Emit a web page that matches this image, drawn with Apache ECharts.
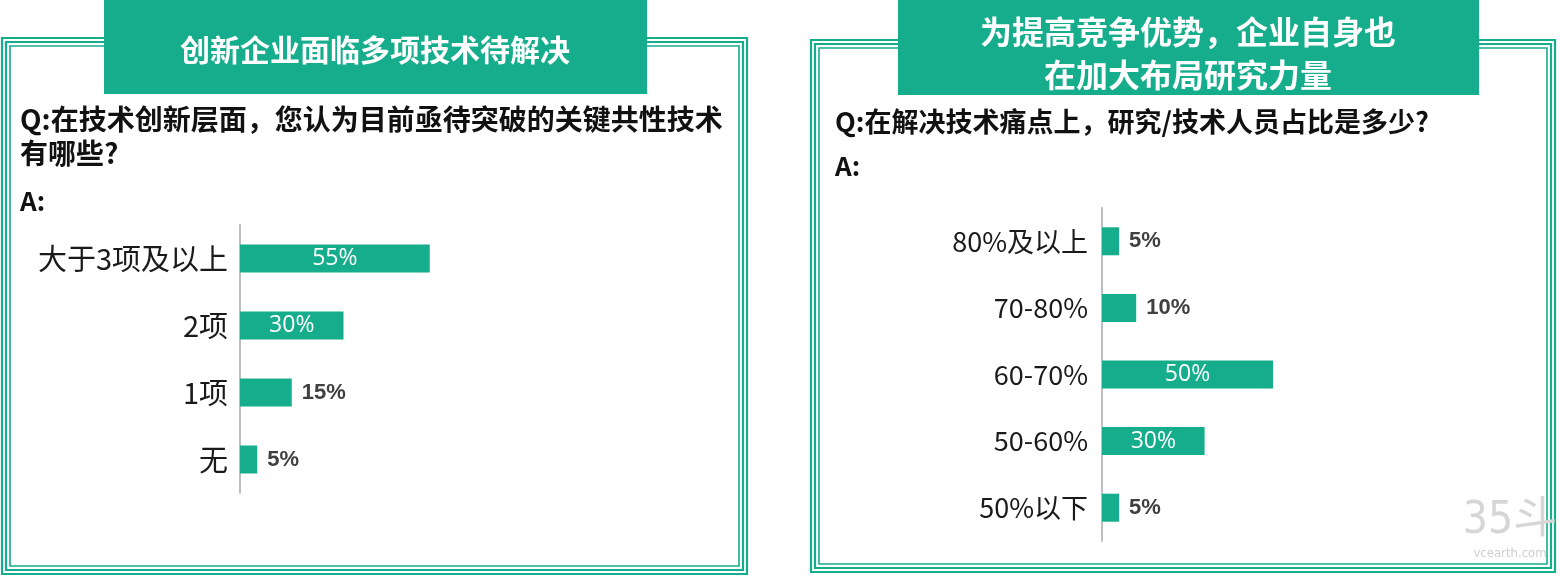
<!DOCTYPE html>
<html>
<head>
<meta charset="utf-8">
<script src="https://cdn.jsdelivr.net/npm/echarts@6/dist/echarts.min.js"></script>
<style>
html,body{margin:0;padding:0;background:#fff;}
#chart{width:1560px;height:576px;}
</style>
</head>
<body>
<div id="chart"></div>
<script>
// ---- data ----
const leftTitle = '创新企业面临多项技术待解决';
const leftQuestion1 = 'Q:在技术创新层面，您认为目前亟待突破的关键共性技术';
const leftQuestion2 = '有哪些?';
const leftCategories = ['大于3项及以上', '2项', '1项', '无'];
const leftValues = [55, 30, 15, 5];

const rightTitle1 = '为提高竞争优势，企业自身也';
const rightTitle2 = '在加大布局研究力量';
const rightQuestion = 'Q:在解决技术痛点上，研究/技术人员占比是多少?';
const rightCategories = ['80%及以上', '70-80%', '60-70%', '50-60%', '50%以下'];
const rightValues = [5, 10, 50, 30, 5];

const answerLabel = 'A:';
const watermark1 = '35斗';
const watermark2 = 'vcearth.com';

// ---- styling ----
const GREEN = '#15AD8C';
const CJK = '"Noto Sans CJK SC", "Noto Sans", sans-serif';

function barData(values) {
  return values.map(v => {
    const inside = v >= 30;
    return {
      value: v,
      label: inside ? {
        show: true, position: 'inside', color: '#ffffff', formatter: '{c}%',
        fontFamily: '"Open Sans", sans-serif', fontSize: 23
      } : {
        show: true, position: 'right', distance: 10, color: '#404040', formatter: '{c}%',
        fontFamily: '"Liberation Sans", Arial, sans-serif', fontWeight: 'bold', fontSize: 22
      }
    };
  });
}

function frame(x1, y1, x2, y2) {
  const out = [];
  const insets = [0, 4, 8];
  const widths = [2.2, 2.2, 1.6];
  insets.forEach((d, i) => {
    out.push({
      type: 'rect', silent: true, z: 1,
      shape: { x: x1 + d, y: y1 + d, width: (x2 - x1) - 2 * d, height: (y2 - y1) - 2 * d },
      style: { fill: null, stroke: GREEN, lineWidth: widths[i] }
    });
  });
  return out;
}

function txt(text, x, y, opts) {
  return {
    type: 'text', z: 10, x: x, y: y,
    style: Object.assign({
      text: text, fill: '#111', fontFamily: CJK, fontSize: 27, fontWeight: 'bold',
      textAlign: 'left', textVerticalAlign: 'middle'
    }, opts || {})
  };
}

const chart = echarts.init(document.getElementById('chart'), null, { renderer: 'canvas' });

const graphics = [].concat(
  frame(2, 38, 747, 574),
  frame(811, 40, 1555, 572),
  [
    { type: 'rect', z: 5, shape: { x: 104, y: 0, width: 543, height: 94 }, style: { fill: GREEN } },
    { type: 'rect', z: 5, shape: { x: 898, y: 0, width: 581, height: 95 }, style: { fill: GREEN } },
    txt(leftTitle, 375, 50, { fill: '#fff', fontSize: 30, textAlign: 'center' }),
    txt(rightTitle1, 1188, 32, { fill: '#fff', fontSize: 32, textAlign: 'center' }),
    txt(rightTitle2, 1188, 75, { fill: '#fff', fontSize: 32, textAlign: 'center' }),
    txt(leftQuestion1, 20, 119, { fontSize: 28 }),
    txt(leftQuestion2, 20, 153, { fontSize: 28 }),
    txt(answerLabel, 20, 201, { fontSize: 26 }),
    txt(rightQuestion, 835, 122, { fontSize: 27 }),
    txt(answerLabel, 835, 166, { fontSize: 26 }),
    txt(watermark1, 1510, 522, { fill: '#d6d6d6', fontSize: 44, fontWeight: 'normal', textAlign: 'center', fontFamily: '"Liberation Sans Narrow", "DejaVu Sans Condensed", ' + CJK }),
    txt(watermark2, 1510, 554, { fill: '#cfcfcf', fontSize: 13, fontWeight: 'normal', textAlign: 'center', fontFamily: '"Liberation Sans Narrow", "DejaVu Sans Condensed", sans-serif' })
  ]
);

function catAxis(gridIndex, data, fontSize, margin) {
  return {
    type: 'category', gridIndex: gridIndex, data: data, inverse: true,
    axisLine: { show: true, lineStyle: { color: '#bfbfbf', width: 2 } },
    axisTick: { show: false },
    axisLabel: { color: '#1a1a1a', fontFamily: CJK, fontSize: fontSize, margin: margin }
  };
}
function valAxis(gridIndex) {
  return {
    type: 'value', gridIndex: gridIndex, min: 0, max: 100,
    show: false, splitLine: { show: false }
  };
}

chart.setOption({
  animation: false,
  backgroundColor: '#ffffff',
  grid: [
    { left: 240, top: 225, width: 345, height: 268, containLabel: false },
    { left: 1102, top: 208, width: 342, height: 333, containLabel: false }
  ],
  xAxis: [valAxis(0), valAxis(1)],
  yAxis: [catAxis(0, leftCategories, 29, 12), catAxis(1, rightCategories, 27, 14)],
  series: [
    {
      type: 'bar', xAxisIndex: 0, yAxisIndex: 0, barWidth: 28,
      itemStyle: { color: GREEN }, data: barData(leftValues)
    },
    {
      type: 'bar', xAxisIndex: 1, yAxisIndex: 1, barWidth: 28,
      itemStyle: { color: GREEN }, data: barData(rightValues)
    }
  ],
  graphic: graphics
});
</script>
</body>
</html>
